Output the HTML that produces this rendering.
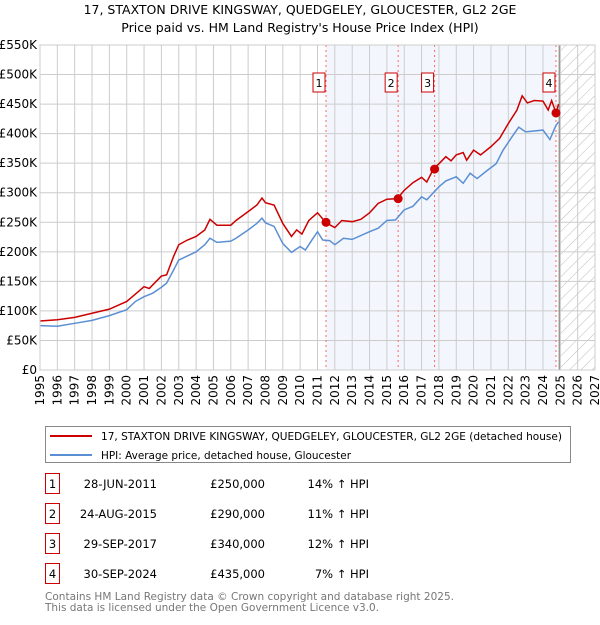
<!DOCTYPE html>
<html><head><meta charset="utf-8"><style>
body{margin:0;background:#fff;font-family:"Liberation Sans","DejaVu Sans",sans-serif;}
svg text{font-family:"DejaVu Sans","Liberation Sans",sans-serif;}
</style></head><body>
<svg width="600" height="620" xmlns="http://www.w3.org/2000/svg">
<text x="300" y="14" font-size="12.5" text-anchor="middle">17, STAXTON DRIVE KINGSWAY, QUEDGELEY, GLOUCESTER, GL2 2GE</text>
<text x="300" y="32" font-size="12.5" text-anchor="middle">Price paid vs. HM Land Registry's House Price Index (HPI)</text>
<defs><pattern id="hatch" width="8" height="8" patternUnits="userSpaceOnUse" patternTransform="rotate(45)"><line x1="0" y1="0" x2="0" y2="8" stroke="#bbb" stroke-width="1"/></pattern></defs>
<g id="plot"></g>
<g id="legend">
<rect x="45.5" y="426.5" width="525" height="36" fill="#fff" stroke="#888"/>
<line x1="50" y1="436" x2="92" y2="436" stroke="#cc0000" stroke-width="2"/>
<text x="101" y="440" font-size="11" textLength="461" lengthAdjust="spacingAndGlyphs">17, STAXTON DRIVE KINGSWAY, QUEDGELEY, GLOUCESTER, GL2 2GE (detached house)</text>
<line x1="50" y1="455" x2="92" y2="455" stroke="#5b8fd4" stroke-width="2"/>
<text x="101" y="459" font-size="11" textLength="250" lengthAdjust="spacingAndGlyphs">HPI: Average price, detached house, Gloucester</text>
</g>
<g id="table"></g>
<text x="45" y="600" font-size="11" fill="#777" textLength="409" lengthAdjust="spacingAndGlyphs">Contains HM Land Registry data © Crown copyright and database right 2025.</text>
<text x="45" y="611" font-size="11" fill="#777" textLength="334" lengthAdjust="spacingAndGlyphs">This data is licensed under the Open Government Licence v3.0.</text>
</svg>
<script>
const hpiYears=[1995,1996,1997,1998,1999,2000,2000.5,2001,2001.5,2002,2002.3,2002.7,2003,2003.5,2004,2004.5,2004.8,2005.2,2006,2006.3,2007,2007.5,2007.8,2008,2008.5,2009,2009.5,2010,2010.3,2010.7,2011,2011.3,2011.7,2012,2012.5,2013,2014,2014.5,2015,2015.5,2016,2016.5,2017,2017.3,2018,2018.4,2019,2019.4,2019.8,2020.2,2020.8,2021.3,2021.7,2022.2,2022.6,2023,2024,2024.4,2024.75,2024.9];
const hpiValues=[75,74,79,84,92,102,116,124,130,140,147,169,186,193,200,212,223,216,218,223,237,248,257,249,243,214,199,209,203,221,234,220,219,212,223,221,234,240,253,254,271,277,293,288,310,320,327,316,333,324,338,349,372,394,411,403,406,390,414,420];
const priceYears=[1995,1996,1997,1998,1999,2000,2001,2001.3,2002,2002.3,2002.7,2003,2003.5,2004,2004.5,2004.8,2005.2,2006,2006.3,2007,2007.5,2007.8,2008,2008.5,2009,2009.5,2009.8,2010.1,2010.5,2011,2011.5,2012,2012.4,2013,2013.5,2014,2014.5,2015,2015.6,2016,2016.5,2017,2017.3,2017.7,2018,2018.4,2018.7,2019,2019.4,2019.6,2020,2020.4,2021,2021.5,2022,2022.5,2022.8,2023.1,2023.5,2024,2024.3,2024.5,2024.75,2024.9];
const priceValues=[83,85,89,96,103,116,141,138,159,161,192,212,220,226,237,255,245,245,253,268,279,291,283,279,248,226,237,230,253,266,249,241,253,251,255,266,282,289,290,304,317,326,318,341,349,361,354,364,368,355,372,364,378,392,417,440,464,452,456,455,440,456,435,450];
const saleLabels=["1","2","3","4"];
const saleYears=[2011.49,2015.65,2017.75,2024.75];
const saleValues=[250,290,340,435];
const saleDates=["28-JUN-2011","24-AUG-2015","29-SEP-2017","30-SEP-2024"];
const salePrices=["£250,000","£290,000","£340,000","£435,000"];
const salePcts=["14% ↑ HPI","11% ↑ HPI","12% ↑ HPI","7% ↑ HPI"];
const yTicks=[0,50,100,150,200,250,300,350,400,450,500,550];
const yTickLabels=["£0","£50K","£100K","£150K","£200K","£250K","£300K","£350K","£400K","£450K","£500K","£550K"];
const xTicks=[1995,1996,1997,1998,1999,2000,2001,2002,2003,2004,2005,2006,2007,2008,2009,2010,2011,2012,2013,2014,2015,2016,2017,2018,2019,2020,2021,2022,2023,2024,2025,2026,2027];

const NS="http://www.w3.org/2000/svg";
const L=40,R=595,T=45,B=370;
const x=v=>L+(v-1995)/(2027-1995)*(R-L);
const y=v=>B-v/550*(B-T);
const plot=document.getElementById('plot');
function mk(tag,attrs,parent){const e=document.createElementNS(NS,tag);for(const k in attrs)e.setAttribute(k,attrs[k]);(parent||plot).appendChild(e);return e;}
let sh=mk('rect',{x:x(saleYears[0]),y:T,width:x(saleYears[3])-x(saleYears[0]),height:B-T,fill:'#eef3fc',opacity:0.7});


let ht=mk('rect',{x:x(2025),y:T,width:R-x(2025),height:B-T,fill:'url(#hatch)'});


yTicks.forEach((t,i)=>{
 let g=mk('line',{x1:L,x2:R,y1:y(t),y2:y(t),stroke:'#ccc','stroke-width':1});
 
 
 let tx=mk('text',{x:L-3,y:y(t)+4,'font-size':12,'text-anchor':'end'});
 tx.textContent=yTickLabels[i];
 
 
});
xTicks.forEach(t=>{
 let g=mk('line',{x1:x(t),x2:x(t),y1:T,y2:B,stroke:'#ccc','stroke-width':1});
 
 
 let tx=mk('text',{x:0,y:0,'font-size':12,'text-anchor':'end',transform:`translate(${x(t)+4},${B+5}) rotate(-90)`});
 tx.textContent=t;
 
 
});
let nl=mk('line',{x1:x(2025)-1,x2:x(2025)-1,y1:T,y2:B,stroke:'#999','stroke-width':1.5});


saleYears.forEach((s,i)=>{
 let v=mk('line',{x1:x(s),x2:x(s),y1:T,y2:B,stroke:'#ff6666','stroke-width':1,'stroke-dasharray':'2,3'});
 
 
});
function line(xs,vs,col,name){
 let p=mk('polyline',{points:xs.map((t,i)=>x(t)+','+y(vs[i])).join(' '),fill:'none',stroke:col,'stroke-width':1.5});
 
 
}
line(hpiYears,hpiValues,'#5b8fd4','hpi-line');
line(priceYears,priceValues,'#cc0000','price-line');
saleYears.forEach((s,i)=>{
 let c=mk('circle',{cx:x(s),cy:y(saleValues[i]),r:4.5,fill:'#cc0000'});
 
 
 let r=mk('rect',{x:x(s)-13,y:73,width:12,height:19,fill:'#fff',stroke:'#cc0000'});
 
 
 let t=mk('text',{x:x(s)-7,y:87,'font-size':11,'text-anchor':'middle'});
 t.textContent=saleLabels[i];
 
 
});
let ax=mk('rect',{x:L,y:T,width:R-L,height:B-T,fill:'none',stroke:'#ccc'});


const tb=document.getElementById('table');
saleLabels.forEach((l,i)=>{
 const yy=483+i*30;
 let r=mk('rect',{x:45.5,y:yy-9.5,width:14,height:20,fill:'#fff',stroke:'#cc0000'},tb);
 
 
 const cells=[[52.5,l,'middle'],[157,saleDates[i],'end'],[265,salePrices[i],'end'],[369,salePcts[i],'end']];
 cells.forEach(c=>{let t=mk('text',{x:c[0],y:yy+5,'font-size':11.5,'text-anchor':c[2]},tb);t.textContent=c[1];
 
 });
});
</script>
</body></html>
